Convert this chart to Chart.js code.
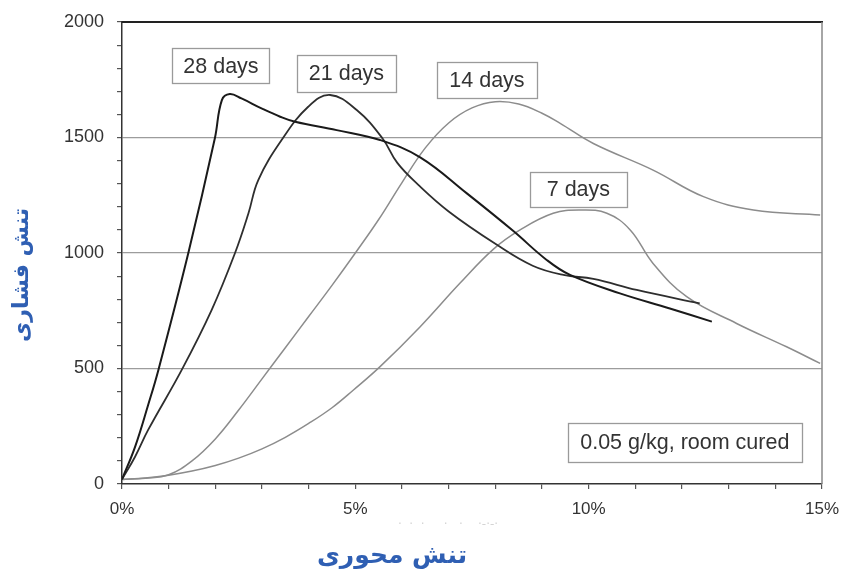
<!DOCTYPE html>
<html>
<head>
<meta charset="utf-8">
<script src="https://cdn.jsdelivr.net/npm/chart.js@4.4.1/dist/chart.umd.min.js"></script>
<style>
  html, body { margin: 0; padding: 0; background: #ffffff; }
  #wrap { width: 841px; height: 584px; }
</style>
</head>
<body>
<div id="wrap"><canvas id="c" width="841" height="584"></canvas></div>
<script>
// ---- data (strain in %, stress) ----
const strain28 = [0, 0.28, 0.56, 0.78, 1.42, 1.99, 2.14, 2.31, 2.56, 2.99, 3.39, 3.71, 4.6, 5.53, 6.39, 7.39, 8.38, 9.1, 9.6, 10.67, 11.74, 12.64];
const stress28 = [20, 161, 342, 494, 999, 1497, 1662, 1688, 1669, 1626, 1590, 1568, 1532, 1489, 1414, 1258, 1096, 970, 905, 825, 760, 703];

const strain21 = [0, 0.28, 0.56, 1.28, 1.92, 2.42, 2.71, 2.92, 3.42, 3.99, 4.46, 5.03, 5.58, 5.9, 6.35, 7.0, 8.0, 8.8, 9.46, 10.1, 11.03, 12.38];
const stress21 = [20, 118, 234, 494, 753, 999, 1172, 1316, 1489, 1633, 1684, 1619, 1497, 1390, 1295, 1180, 1040, 945, 905, 888, 840, 782];

const strain14 = [0, 0.5, 1.0, 1.5, 2.0, 2.5, 3.0, 3.5, 4.0, 4.5, 5.0, 5.5, 6.0, 6.5, 7.0, 7.5, 8.0, 8.5, 9.0, 9.39, 10.1, 11.38, 12.46, 13.53, 14.96];
const stress14 = [20, 25, 40, 100, 195, 320, 455, 590, 725, 860, 1000, 1145, 1305, 1455, 1563, 1628, 1655, 1645, 1605, 1561, 1474, 1359, 1244, 1186, 1165];

const strain7 = [0, 0.5, 1.0, 1.5, 2.0, 2.5, 3.0, 3.5, 4.0, 4.5, 4.96, 5.53, 6.39, 7.24, 7.96, 8.53, 9.24, 9.81, 10.39, 10.89, 11.38, 12.1, 13.17, 14.24, 14.96];
const stress7 = [20, 26, 38, 56, 80, 112, 152, 202, 262, 330, 407, 508, 681, 869, 1017, 1100, 1172, 1186, 1172, 1100, 955, 811, 695, 594, 522];

const seriesNames = ['28 days', '21 days', '14 days', '7 days'];
const xTickValues = [0, 5, 10, 15];
const xTickLabels = ['0%', '5%', '10%', '15%'];
const yTickValues = [0, 500, 1000, 1500, 2000];
const yTickLabels = ['0', '500', '1000', '1500', '2000'];
const noteText = '0.05 g/kg, room cured';
const yTitle = 'تنش فشاری';
const xTitle = 'تنش محوری';

// ---- build ----
function pts(xs, ys) { return xs.map((x, i) => ({ x: x, y: ys[i] })); }

const lineStyles = [
  { color: '#1a1a1a', width: 2.0 },
  { color: '#2e2e2e', width: 1.8 },
  { color: '#8c8c8c', width: 1.5 },
  { color: '#8c8c8c', width: 1.5 }
];
const allData = [pts(strain28, stress28), pts(strain21, stress21), pts(strain14, stress14), pts(strain7, stress7)];

const datasets = allData.map((d, i) => ({
  label: seriesNames[i],
  data: d,
  borderColor: lineStyles[i].color,
  borderWidth: lineStyles[i].width,
  pointRadius: 0,
  fill: false,
  tension: 0.4,
  showLine: true
}));

// label boxes anchored in data coordinates (centre)
const boxAnchors = [
  { text: seriesNames[0], x: 2.12, y: 1810, w: 97, h: 35 },
  { text: seriesNames[1], x: 4.81, y: 1777, w: 99, h: 37 },
  { text: seriesNames[2], x: 7.82, y: 1749, w: 100, h: 36 },
  { text: seriesNames[3], x: 9.78, y: 1275, w: 97, h: 35 },
  { text: noteText, x: 12.06, y: 180, w: 234, h: 39 }
];

const framePlugin = {
  id: 'frame',
  afterDatasetsDraw(chart) {
    const { ctx, chartArea: a, scales } = chart;
    ctx.save();
    // top border
    ctx.strokeStyle = '#222';
    ctx.lineWidth = 2;
    ctx.beginPath(); ctx.moveTo(a.left, a.top); ctx.lineTo(a.right + 1, a.top); ctx.stroke();
    // right border
    ctx.strokeStyle = '#888';
    ctx.lineWidth = 1.5;
    ctx.beginPath(); ctx.moveTo(a.right, a.top); ctx.lineTo(a.right, a.bottom); ctx.stroke();
    // boxes
    ctx.font = '21.5px "Liberation Sans", Arial, sans-serif';
    ctx.textAlign = 'center';
    ctx.textBaseline = 'middle';
    boxAnchors.forEach(b => {
      const cx = scales.x.getPixelForValue(b.x);
      const cy = scales.y.getPixelForValue(b.y);
      const l = Math.round(cx - b.w / 2) + 0.5, t = Math.round(cy - b.h / 2) + 0.5;
      ctx.fillStyle = '#ffffff';
      ctx.fillRect(l, t, b.w, b.h);
      ctx.strokeStyle = '#9a9a9a';
      ctx.lineWidth = 1.3;
      ctx.strokeRect(l, t, b.w, b.h);
      ctx.fillStyle = '#333';
      ctx.fillText(b.text, cx, cy + 1);
    });
    // faint residue marks under the axis
    ctx.fillStyle = '#d4d4d4';
    ctx.font = '12px "DejaVu Sans", sans-serif';
    ctx.fillText('·  ·  ·     ·   ·    ·-·-·', 448, 525);
    // axis titles
    ctx.fillStyle = '#2f5fb3';
    ctx.font = 'bold 22px "DejaVu Sans", sans-serif';
    ctx.save();
    ctx.translate(22, 275);
    ctx.rotate(-Math.PI / 2);
    ctx.fillText(yTitle, 0, 0);
    ctx.restore();
    ctx.font = 'bold 25px "DejaVu Sans", sans-serif';
    ctx.fillText(xTitle, 392, 556);
    ctx.restore();
  }
};

new Chart(document.getElementById('c'), {
  type: 'scatter',
  data: { datasets },
  plugins: [framePlugin],
  options: {
    responsive: false,
    animation: false,
    layout: { padding: { top: 22, right: 19, left: 0, bottom: 0 } },
    plugins: { legend: { display: false }, tooltip: { enabled: false }, title: { display: false } },
    scales: {
      x: {
        type: 'linear', min: 0, max: 15,
        afterFit(s) { s.height = 100; s.paddingLeft = 0; s.paddingRight = 0; },
        ticks: {
          stepSize: 1, autoSkip: false, maxRotation: 0, padding: 10,
          color: '#333', font: { size: 17, family: '"Liberation Sans", Arial, sans-serif' },
          callback(v) { const k = xTickValues.indexOf(v); return k >= 0 ? xTickLabels[k] : ''; }
        },
        grid: { drawOnChartArea: false, tickLength: 5, tickColor: '#555', lineWidth: 1.2 },
        border: { display: true, color: '#333', width: 1.5 }
      },
      y: {
        type: 'linear', min: 0, max: 2000,
        afterFit(s) { s.width = 122; s.paddingTop = 0; s.paddingBottom = 0; },
        ticks: {
          stepSize: 100, autoSkip: false, padding: 13,
          color: '#333', font: { size: 18, family: '"Liberation Sans", Arial, sans-serif' },
          callback(v) { const k = yTickValues.indexOf(v); return k >= 0 ? yTickLabels[k] : ''; }
        },
        grid: {
          tickLength: 5,
          tickColor: '#555',
          lineWidth: 1.2,
          color(ctx) {
            const v = ctx.tick ? ctx.tick.value : -1;
            return (v % 500 === 0 && v > 0 && v < 2000) ? '#9c9c9c' : 'rgba(0,0,0,0)';
          }
        },
        border: { display: true, color: '#333', width: 1.5 }
      }
    }
  }
});
</script>
</body>
</html>
